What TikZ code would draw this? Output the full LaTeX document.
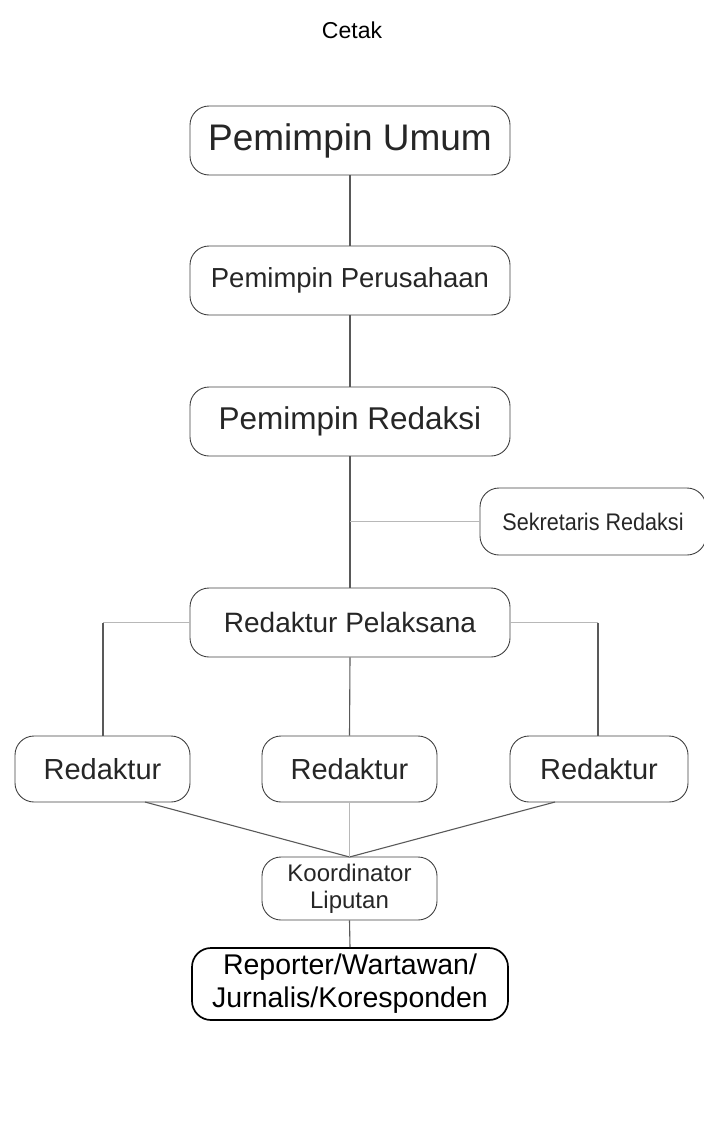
\documentclass[tikz,border=0pt]{standalone}
\usepackage{fontspec}
\setmainfont{Liberation Sans}
\begin{document}
\begin{tikzpicture}[x=1pt,y=-1pt,
  box/.style={draw=black!75,rounded corners=19pt,line width=0.9pt,inner sep=0pt,text=black!85,align=center},
  darkline/.style={draw=black!65,line width=1.1pt},
  lightline/.style={draw=black!28,line width=1.4pt}]
\useasboundingbox (0,0) rectangle (704,1127);
\node[font=\fontsize{23}{27}\selectfont] (title) at (352,30) {Cetak};
\node[box,minimum width=320pt,minimum height=69pt,font=\fontsize{37}{40}\selectfont] (pu) at (350,140.5) {Pemimpin Umum};
\node[box,minimum width=320pt,minimum height=69pt,font=\fontsize{27.5}{30}\selectfont] (pp) at (350,280.5) {Pemimpin Perusahaan};
\node[box,minimum width=320pt,minimum height=69pt,font=\fontsize{31.5}{34}\selectfont] (pr) at (350,421.5) {Pemimpin Redaksi};
\node[box,minimum width=226pt,minimum height=67pt,font=\fontsize{24}{27}\selectfont\addfontfeature{FakeStretch=0.9}] (sr) at (593,521.5) {Sekretaris Redaksi};
\node[box,minimum width=320pt,minimum height=69pt,font=\fontsize{28}{31}\selectfont] (rp) at (350,622.5) {Redaktur Pelaksana};
\node[box,minimum width=175pt,minimum height=66pt,font=\fontsize{29}{31}\selectfont] (r1) at (102.5,769) {Redaktur};
\node[box,minimum width=175pt,minimum height=66pt,font=\fontsize{29}{31}\selectfont] (r2) at (349.5,769) {Redaktur};
\node[box,minimum width=178pt,minimum height=66pt,font=\fontsize{29}{31}\selectfont] (r3) at (599,769) {Redaktur};
\node[box,minimum width=175pt,minimum height=63pt,font=\fontsize{24}{27}\selectfont] (kl) at (349.5,888.5) {Koordinator\\Liputan};
\node[box,draw=black,line width=1.7pt,text=black,minimum width=316pt,minimum height=72pt,font=\fontsize{28.5}{33}\selectfont] (rw) at (350,984) {Reporter/Wartawan/\\Jurnalis/Koresponden};
\coordinate (js) at (350,521.5);
\coordinate (ll) at (103,622.5);
\coordinate (rr) at (598,622.5);
\coordinate (kt) at (349.5,857);
\draw[darkline] (pu.south) -- (pp.north);
\draw[darkline] (pp.south) -- (pr.north);
\draw[darkline] (pr.south) -- (rp.north);
\draw[lightline] (js) -- (sr.west);
\draw[lightline] (rp.west) -- (ll);
\draw[lightline] (rp.east) -- (rr);
\draw[darkline] (ll) -- (ll |- r1.north);
\draw[darkline] (rr) -- (rr |- r3.north);
\draw[darkline] (rp.south) -- (r2.north);
\draw[darkline] (145,802) -- (kt);
\draw[darkline] (555,802) -- (kt);
\draw[lightline] (r2.south) -- (kl.north);
\draw[darkline] (kl.south) -- (rw.north);
\end{tikzpicture}
\end{document}
